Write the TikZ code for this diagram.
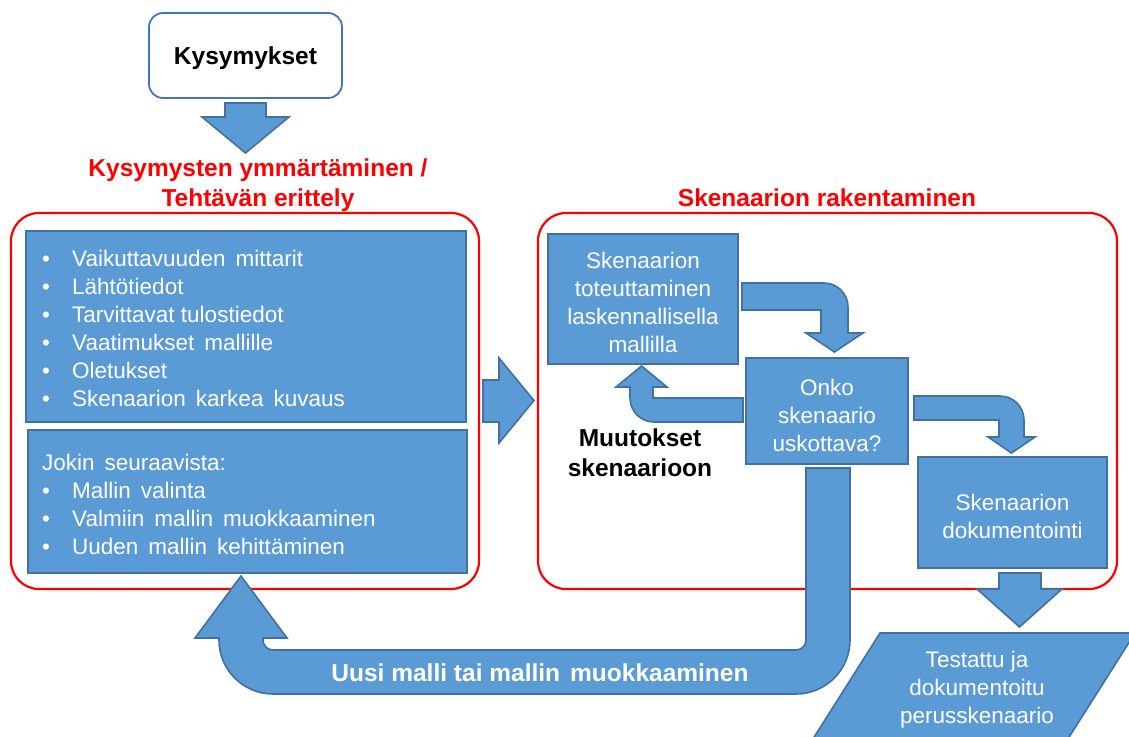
\documentclass[tikz,border=0pt]{standalone}
\usepackage{fontspec}
\setmainfont{Liberation Sans}
\definecolor{bfill}{RGB}{91,155,213}
\definecolor{bline}{RGB}{65,113,156}
\definecolor{kline}{RGB}{68,114,196}
\definecolor{rline}{RGB}{255,0,0}
\newcommand{\regtext}{\fontsize{22.5}{28}\selectfont}
\newcommand{\boldtext}{\fontsize{24.5}{30}\selectfont\bfseries}
\newcommand{\itm}[1]{\makebox[30pt][l]{\textbullet}#1}
\newcommand{\wsp}{\hspace{10pt}}
\begin{document}
\begin{tikzpicture}[x=1pt,y=-1pt,
  bbox/.style={draw=bline, fill=bfill, line width=1.6pt, inner sep=0pt, outer sep=0pt},
  barrow/.style={draw=bline, fill=bfill, line width=1.6pt, line join=miter},
  frame/.style={draw=rline, line width=2.2pt, rounded corners=28pt},
  wtext/.style={text=white, font=\regtext, align=center, inner sep=0pt},
  wlist/.style={text=white, font=\regtext, align=left, inner sep=0pt, anchor=west},
  title/.style={text=rline, font=\boldtext, align=center, inner sep=0pt},
  btext/.style={text=black, font=\boldtext, align=center, inner sep=0pt},
]
\useasboundingbox (0,0) rectangle (1129,736);
\clip (0,0) rectangle (1129,736);

% question box
\node[draw=kline, fill=white, line width=1.8pt, rounded corners=14pt,
      minimum width=193pt, minimum height=85pt, inner sep=0pt] (kys) at (245.5,55.5) {};
\node[btext, anchor=base] (kyst) at (245.5,64.5) {Kysymykset};
\draw[barrow] (225,103) -- (266,103) -- (266,117) -- (289,117) -- (245.5,153)
  -- (202,117) -- (225,117) -- cycle;

% section titles
\node[title] (t1) at (258,185) {Kysymysten ymmärtäminen /\\Tehtävän erittely};
\node[title] (t2) at (827,197.5) {Skenaarion rakentaminen};

% red frames
\draw[frame] (11,213) rectangle (479,589);
\draw[frame] (538,213) rectangle (1117,589);

% left section boxes
\node[bbox, minimum width=440pt, minimum height=191pt] (crit) at (246,326.5) {};
\node[wlist] (critt) at (42,328) {\itm{Vaikuttavuuden\wsp mittarit}\\
  \itm{Lähtötiedot}\\
  \itm{Tarvittavat tulostiedot}\\
  \itm{Vaatimukset\wsp mallille}\\
  \itm{Oletukset}\\
  \itm{Skenaarion\wsp karkea\wsp kuvaus}};
\node[bbox, minimum width=439pt, minimum height=143pt] (choice) at (247.5,501.5) {};
\node[wlist] (choicet) at (42,504) {Jokin\wsp seuraavista:\\
  \itm{Mallin\wsp valinta}\\
  \itm{Valmiin\wsp mallin\wsp muokkaaminen}\\
  \itm{Uuden\wsp mallin\wsp kehittäminen}};

% arrow between sections
\draw[barrow] (483,380) -- (499,380) -- (499,358) -- (534,400.5) -- (499,443)
  -- (499,422) -- (483,422) -- cycle;

% right section boxes
\node[bbox, minimum width=190pt, minimum height=130pt] (impl) at (643,299) {};
\node[wtext] (implt) at (643,302.3) {Skenaarion\\toteuttaminen\\laskennallisella\\mallilla};
\node[bbox, minimum width=162pt, minimum height=106pt] (check) at (827,411) {};
\node[wtext] (checkt) at (827,415.2) {Onko\\skenaario\\uskottava?};
\node[bbox, minimum width=189pt, minimum height=111pt] (doc) at (1012.5,512.5) {};
\node[wtext] (doct) at (1012.5,516.3) {Skenaarion\\dokumentointi};

% implementation -> check
\draw[barrow] (742,283) -- (824,283) .. controls (837.25,283) and (848,293.75) .. (848,307)
  -- (848,333) -- (863,333) -- (834.5,352) -- (806,333) -- (821,333) -- (821,310)
  -- (742,310) -- cycle;
% check -> implementation (changes)
\draw[barrow] (743,398) -- (653,398) -- (653,387) -- (667,387) -- (641.5,366)
  -- (616,387) -- (630,387) -- (630,398) .. controls (630,411.25) and (640.75,422) .. (654,422)
  -- (743,422) -- cycle;
\node[btext] (chg) at (640,452.4) {Muutokset\\skenaarioon};
% check -> documentation
\draw[barrow] (914,396) -- (1000,396) .. controls (1013.25,396) and (1024,406.75) .. (1024,420)
  -- (1024,437) -- (1035,437) -- (1011.5,453) -- (988,437) -- (999,437) -- (999,420)
  -- (914,420) -- cycle;
% documentation -> result
\draw[barrow] (999,573) -- (1041,573) -- (1041,589) -- (1062,589) -- (1019.5,627)
  -- (977,589) -- (999,589) -- cycle;

% result
\draw[barrow] (880,633) -- (1135,633) -- (1066,742) -- (811,742) -- cycle;
\node[wtext] (rest) at (977,689.8) {Testattu ja\\dokumentoitu\\perusskenaario};

% return loop: new model or model modification
\draw[barrow] (806,468) -- (850,468) -- (850,640)
  .. controls (850,669.8) and (825.8,694) .. (796,694) -- (273,694)
  .. controls (243.2,694) and (219,669.8) .. (219,640) -- (219,638) -- (195,638)
  -- (241,576) -- (287,638) -- (263,638) -- (263,640)
  .. controls (263,645.5) and (267.5,650) .. (273,650) -- (796,650)
  .. controls (801.5,650) and (806,645.5) .. (806,640) -- cycle;
\node[btext, text=white] (loopt) at (540,672.4) {Uusi malli tai mallin\wsp muokkaaminen};
\end{tikzpicture}
\end{document}
